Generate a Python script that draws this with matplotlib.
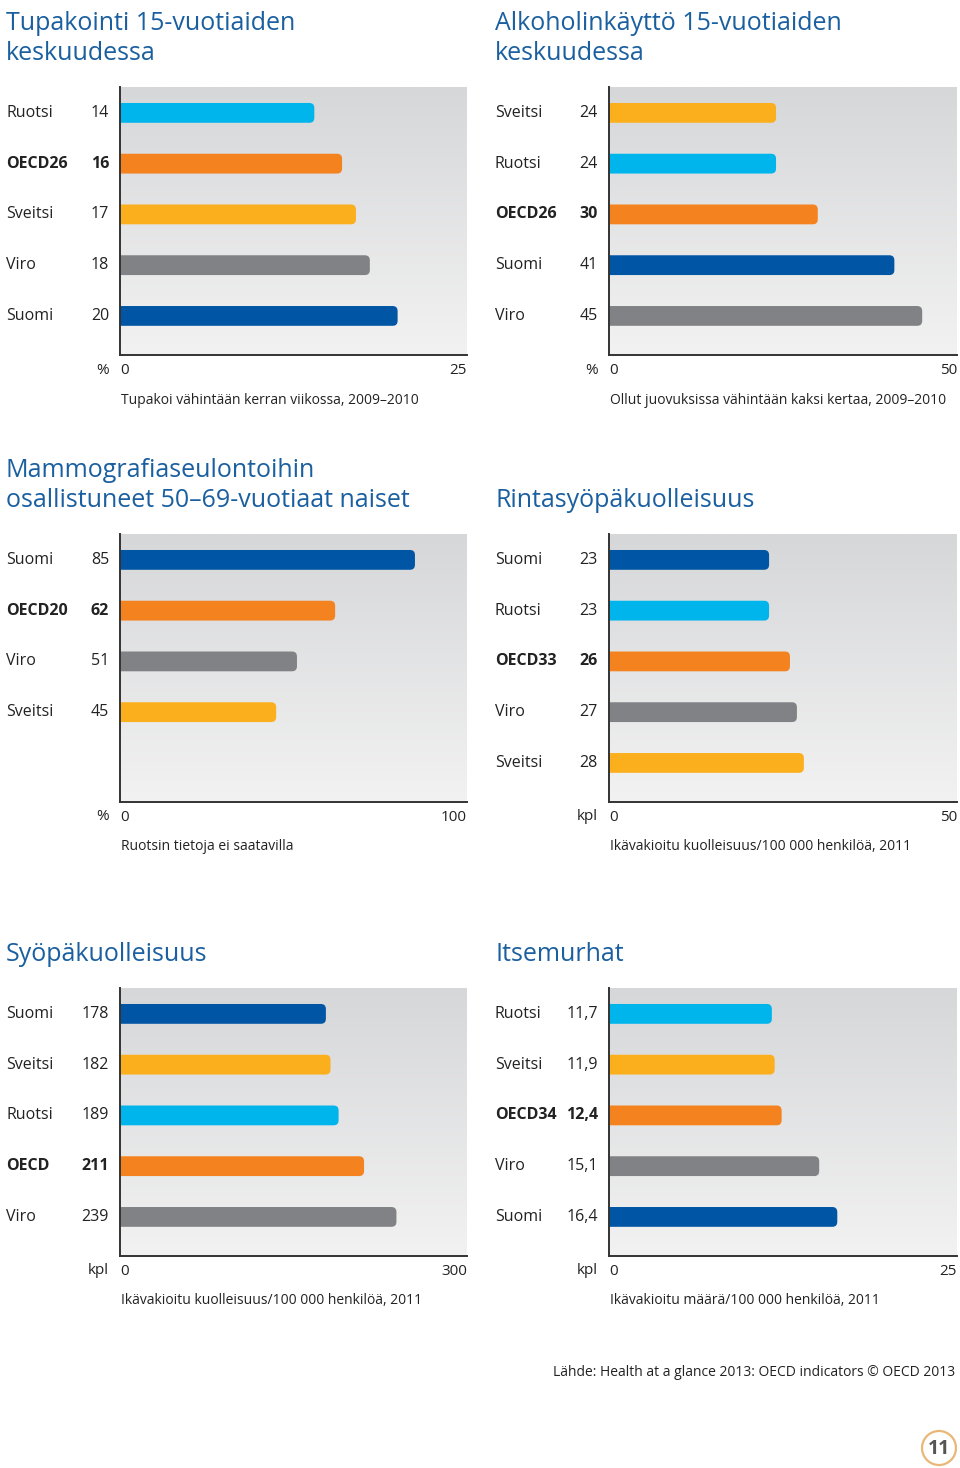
import numpy as np
import matplotlib as mpl
import matplotlib.pyplot as plt
from matplotlib.patches import FancyBboxPatch, BoxStyle, Circle

plt.switch_backend("Agg")
plt.rcParams["font.family"] = ["Open Sans", "DejaVu Sans"]

W, H = 960, 1468
DPI = 100

TITLE_COLOR = "#1a5f9f"
TEXT_COLOR = "#222222"
COLORS = {
    "Suomi": "#0055a4",
    "Ruotsi": "#00b4ec",
    "Sveitsi": "#fcaf1c",
    "Viro": "#818285",
    "OECD": "#f4821f",
}

# panel 1
smoke_labels = ["Ruotsi", "OECD26", "Sveitsi", "Viro", "Suomi"]
smoke_values = [14, 16, 17, 18, 20]
# panel 2
alc_labels = ["Sveitsi", "Ruotsi", "OECD26", "Suomi", "Viro"]
alc_values = [24, 24, 30, 41, 45]
# panel 3
mammo_labels = ["Suomi", "OECD20", "Viro", "Sveitsi"]
mammo_values = [85, 62, 51, 45]
# panel 4
breast_labels = ["Suomi", "Ruotsi", "OECD33", "Viro", "Sveitsi"]
breast_values = [23, 23, 26, 27, 28]
# panel 5
cancer_labels = ["Suomi", "Sveitsi", "Ruotsi", "OECD", "Viro"]
cancer_values = [178, 182, 189, 211, 239]
# panel 6
suicide_labels = ["Ruotsi", "Sveitsi", "OECD34", "Viro", "Suomi"]
suicide_values = [11.7, 11.9, 12.4, 15.1, 16.4]

panels = [
    dict(title="Tupakointi 15-vuotiaiden\nkeskuudessa", labels=smoke_labels,
         values=smoke_values, xmax=25, unit="%",
         caption="Tupakoi vähintään kerran viikossa, 2009–2010"),
    dict(title="Alkoholinkäyttö 15-vuotiaiden\nkeskuudessa", labels=alc_labels,
         values=alc_values, xmax=50, unit="%",
         caption="Ollut juovuksissa vähintään kaksi kertaa, 2009–2010"),
    dict(title="Mammografiaseulontoihin\nosallistuneet 50–69-vuotiaat naiset",
         labels=mammo_labels, values=mammo_values, xmax=100, unit="%",
         caption="Ruotsin tietoja ei saatavilla"),
    dict(title="Rintasyöpäkuolleisuus", labels=breast_labels,
         values=breast_values, xmax=50, unit="kpl",
         caption="Ikävakioitu kuolleisuus/100 000 henkilöä, 2011"),
    dict(title="Syöpäkuolleisuus", labels=cancer_labels,
         values=cancer_values, xmax=300, unit="kpl",
         caption="Ikävakioitu kuolleisuus/100 000 henkilöä, 2011"),
    dict(title="Itsemurhat", labels=suicide_labels,
         values=suicide_values, xmax=25, unit="kpl",
         caption="Ikävakioitu määrä/100 000 henkilöä, 2011", decimals=1),
]

# layout in pixels
COL_X = [(120, 467), (609, 957)]
TEXT_X = [6, 495]
ROW_Y = [(87, 355), (534, 802), (988, 1256)]
TITLE_BOTTOM = [66, 513, 967]
N_SLOTS = 5
Y_TOP = -0.51
Y_BOT = N_SLOTS - 1 + 0.77
BAR_H = 0.39
RADIUS_PX = 5


def color_for(name):
    if name.startswith("OECD"):
        return COLORS["OECD"]
    return COLORS[name]


def fmt(v, decimals):
    if decimals:
        return f"{v:.{decimals}f}".replace(".", ",")
    return f"{v:d}"


fig = plt.figure(figsize=(W / DPI, H / DPI), dpi=DPI)

grad = np.linspace(0, 1, 256)[:, None]
top_c = np.array(mpl.colors.to_rgb("#d6d7d9"))
bot_c = np.array(mpl.colors.to_rgb("#f2f2f2"))
grad_img = top_c[None, None, :] * (1 - grad[..., None]) + bot_c[None, None, :] * grad[..., None]

for i, p in enumerate(panels):
    row, col = divmod(i, 2)
    x0, x1 = COL_X[col]
    y0, y1 = ROW_Y[row]
    ax = fig.add_axes([x0 / W, 1 - y1 / H, (x1 - x0) / W, (y1 - y0) / H])
    xmax = p["xmax"]
    ax.set_xlim(0, xmax)
    ax.set_ylim(Y_BOT, Y_TOP)
    ax.imshow(grad_img, extent=[0, xmax, Y_BOT, Y_TOP], aspect="auto",
              zorder=0, interpolation="bilinear")

    xu = xmax / (x1 - x0)
    yu = (Y_BOT - Y_TOP) / (y1 - y0)
    r = RADIUS_PX * xu
    dec = p.get("decimals", 0)
    for j, (name, v) in enumerate(zip(p["labels"], p["values"])):
        box = FancyBboxPatch(
            (-3 * r, j - BAR_H / 2), v + 3 * r, BAR_H,
            boxstyle=BoxStyle("Round", pad=0, rounding_size=r),
            mutation_aspect=yu / xu, facecolor=color_for(name),
            edgecolor="none", zorder=2)
        ax.add_patch(box)
        bold = name.startswith("OECD")
        weight = "bold" if bold else "normal"
        ax.annotate(name, xy=(0, j), xytext=(TEXT_X[col] - x0, 0),
                    textcoords="offset pixels", ha="left", va="center",
                    fontsize=11.5, fontweight=weight, color=TEXT_COLOR)
        ax.annotate(fmt(v, dec), xy=(0, j), xytext=(-11, 0),
                    textcoords="offset pixels", ha="right", va="center",
                    fontsize=11.5, fontweight=weight, color=TEXT_COLOR)

    for s in ["top", "right"]:
        ax.spines[s].set_visible(False)
    for s in ["left", "bottom"]:
        ax.spines[s].set_color("#333333")
        ax.spines[s].set_linewidth(1.4)
        ax.spines[s].set_zorder(3)
    ax.set_yticks([])
    ax.set_xticks([0, xmax])
    ax.set_xticklabels(["0", str(xmax)], fontsize=11, color=TEXT_COLOR)
    ax.tick_params(axis="x", length=0, pad=6)
    labs = ax.get_xticklabels()
    labs[0].set_ha("left")
    labs[1].set_ha("right")

    ax.annotate(p["unit"], xy=(0, 0), xycoords="axes fraction",
                xytext=(-11, -15), textcoords="offset pixels",
                ha="right", va="center", fontsize=11, color=TEXT_COLOR)
    ax.annotate(p["caption"], xy=(0, 0), xycoords="axes fraction",
                xytext=(1, -45), textcoords="offset pixels",
                ha="left", va="center", fontsize=10, color=TEXT_COLOR)

    fig.text(TEXT_X[col] / W, 1 - TITLE_BOTTOM[row] / H, p["title"],
             ha="left", va="bottom", fontsize=18, color=TITLE_COLOR,
             linespacing=1.25)

fig.text(955 / W, 1 - 1373 / H,
         "Lähde: Health at a glance 2013: OECD indicators © OECD 2013",
         ha="right", va="center", fontsize=10, color=TEXT_COLOR)

# page number badge
circ = Circle((939 / DPI, (H - 1448) / DPI), 17 / DPI,
              transform=fig.dpi_scale_trans, facecolor="white",
              edgecolor="#e9b777", linewidth=1.6)
fig.patches.append(circ)
fig.text(939 / W, 1 - 1449 / H, "11", ha="center", va="center",
         fontsize=14, fontweight="bold", color="#555555")

fig.savefig("out.png", dpi=DPI)
